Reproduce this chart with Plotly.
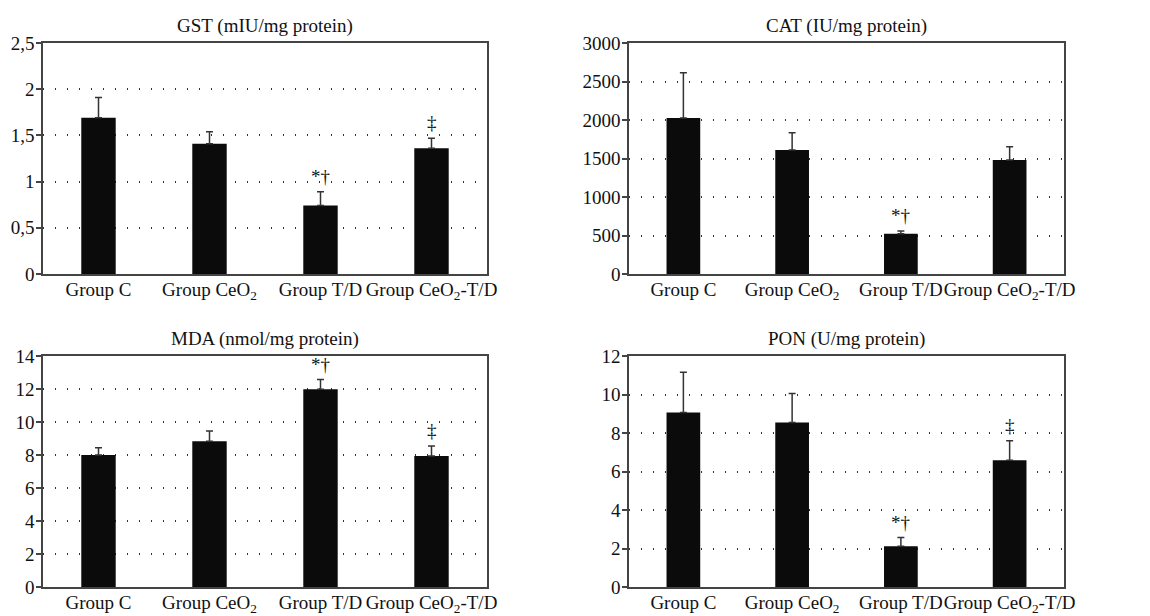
import plotly.graph_objects as go

groups = ["Group C", "Group CeO<sub>2</sub>", "Group T/D", "Group CeO<sub>2</sub>-T/D"]

gst_title = "GST (mIU/mg protein)"
gst_values = [1.69, 1.41, 0.74, 1.36]
gst_errors = [0.22, 0.13, 0.15, 0.11]
gst_marks = ["", "", "*†", "‡"]
gst_tickvals = [0, 0.5, 1, 1.5, 2, 2.5]
gst_ticktext = ["0", "0,5", "1", "1,5", "2", "2,5"]

cat_title = "CAT (IU/mg protein)"
cat_values = [2025, 1612, 522, 1480]
cat_errors = [590, 222, 35, 173]
cat_marks = ["", "", "*†", ""]
cat_tickvals = [0, 500, 1000, 1500, 2000, 2500, 3000]
cat_ticktext = ["0", "500", "1000", "1500", "2000", "2500", "3000"]

mda_title = "MDA (nmol/mg protein)"
mda_values = [8.0, 8.84, 11.98, 7.94]
mda_errors = [0.44, 0.61, 0.59, 0.60]
mda_marks = ["", "", "*†", "‡"]
mda_tickvals = [0, 2, 4, 6, 8, 10, 12, 14]
mda_ticktext = ["0", "2", "4", "6", "8", "10", "12", "14"]

pon_title = "PON (U/mg protein)"
pon_values = [9.07, 8.55, 2.12, 6.58]
pon_errors = [2.09, 1.50, 0.45, 1.02]
pon_marks = ["", "", "*†", "‡"]
pon_tickvals = [0, 2, 4, 6, 8, 10, 12]
pon_ticktext = ["0", "2", "4", "6", "8", "10", "12"]

W, H = 1150, 616
FONT = "Liberation Serif"

panels = [
    (gst_title, gst_values, gst_errors, gst_marks, gst_tickvals, gst_ticktext, (43, 487), (43, 274)),
    (cat_title, cat_values, cat_errors, cat_marks, cat_tickvals, cat_ticktext, (629, 1064), (43, 274)),
    (mda_title, mda_values, mda_errors, mda_marks, mda_tickvals, mda_ticktext, (43, 487), (356, 587)),
    (pon_title, pon_values, pon_errors, pon_marks, pon_tickvals, pon_ticktext, (629, 1064), (356, 587)),
]

fig = go.Figure()
annotations = []
layout_axes = {}
for i, (title, vals, errs, marks, tv, tt, (x0, x1), (ytop, ybot)) in enumerate(panels):
    n = i + 1
    xa = "x" if n == 1 else f"x{n}"
    ya = "y" if n == 1 else f"y{n}"
    fig.add_trace(go.Bar(
        x=groups, y=vals, xaxis=xa, yaxis=ya, width=0.31,
        marker=dict(color="#0b0b0b", line=dict(width=0)),
        error_y=dict(type="data", array=errs, arrayminus=[0] * len(errs), symmetric=False,
                     color="#333333", thickness=1.5, width=3.5),
        showlegend=False, hoverinfo="y",
    ))
    xdom = [x0 / W, x1 / W]
    ydom = [1 - ybot / H, 1 - ytop / H]
    layout_axes[f"xaxis{'' if n == 1 else n}"] = dict(
        domain=xdom, anchor=ya, type="category", showgrid=False, automargin=False,
        showline=True, linecolor="#444444", linewidth=1.5, mirror=True, tickangle=0,
        ticks="", ticklabelstandoff=-3, tickfont=dict(family=FONT, size=19, color="#111111"),
    )
    layout_axes[f"yaxis{'' if n == 1 else n}"] = dict(
        domain=ydom, anchor=xa, range=[0, tv[-1]], tickvals=tv, ticktext=tt, automargin=False,
        showline=True, linecolor="#444444", linewidth=1.5, mirror=True,
        ticks="outside", ticklen=5, tickcolor="#444444", tickwidth=1.5, ticklabelstandoff=-2,
        showgrid=True, gridcolor="#333333", gridwidth=1.5, griddash="1px,11px",
        zeroline=False, tickfont=dict(family=FONT, size=19, color="#111111"),
    )
    annotations.append(dict(
        text=title, xref="paper", yref="paper", x=(xdom[0] + xdom[1]) / 2, y=ydom[1],
        xanchor="center", yanchor="bottom", yshift=4, showarrow=False,
        font=dict(family=FONT, size=19, color="#111111"),
    ))
    for g, v, e, m in zip(groups, vals, errs, marks):
        if m:
            annotations.append(dict(
                text=m, xref=xa, yref=ya, x=g, y=v + e, xanchor="center", yanchor="bottom",
                yshift=3, showarrow=False, font=dict(family=FONT, size=19, color="#111111"),
            ))

fig.update_layout(
    width=W, height=H, margin=dict(l=0, r=0, t=0, b=0, autoexpand=False),
    paper_bgcolor="white", plot_bgcolor="white",
    annotations=annotations, **layout_axes,
)
fig.write_html(
    "out.html",
    config={"displayModeBar": False},
    post_script="document.body.style.margin='0';document.body.style.overflow='hidden';",
)
